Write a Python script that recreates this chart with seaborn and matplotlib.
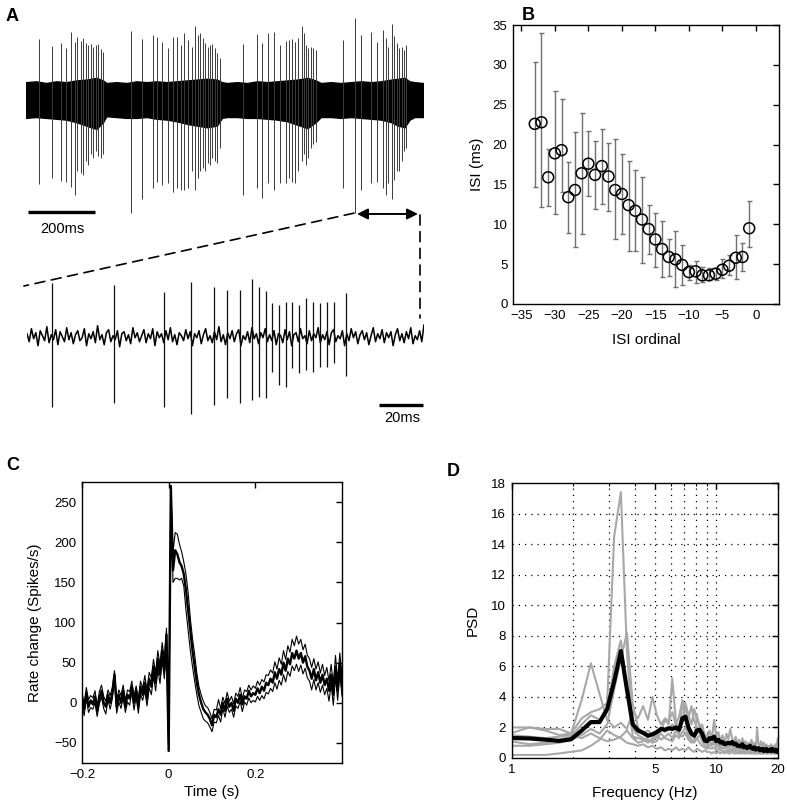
import numpy as np
import matplotlib
matplotlib.use("Agg")
import matplotlib.pyplot as plt
import seaborn as sns
from matplotlib.patches import ConnectionPatch
from matplotlib.ticker import FixedLocator, NullFormatter

sns.set_theme(style="white")
plt.rcParams["font.family"] = ["Liberation Sans", "DejaVu Sans"]
plt.rcParams["axes.edgecolor"] = "black"
plt.rcParams["axes.linewidth"] = 1.0
for key in ["text.color", "axes.labelcolor", "xtick.color", "ytick.color"]:
    plt.rcParams[key] = "black"

# ---------------- Panel A: raw trace (top, ms) ----------------
band_t = [0, 30, 60, 90, 120, 150, 180, 210, 230, 240, 270, 300, 330, 360, 390, 420, 450, 480,
          510, 540, 570, 585, 600, 630, 660, 690, 720, 750, 780, 810, 840, 865, 880, 910, 940,
          970, 1000, 1030, 1060, 1090, 1110, 1130, 1145, 1160, 1185]
band_hi = [1.05, 1.1, 1.0, 1.1, 1.05, 1.15, 1.2, 1.3, 1.15, 1.0, 1.05, 1.0, 1.1, 1.05, 1.1, 1.05, 1.1, 1.15,
           1.2, 1.25, 1.2, 1.05, 1.0, 1.05, 1.0, 1.1, 1.05, 1.1, 1.15, 1.2, 1.3, 1.15, 1.0, 1.05, 1.0,
           1.05, 1.1, 1.05, 1.1, 1.2, 1.25, 1.3, 1.1, 1.05, 1.0]
band_lo = [-1.05, -1.0, -1.05, -1.1, -1.15, -1.3, -1.5, -1.7, -1.3, -0.95, -1.0, -1.05, -1.05, -1.0, -1.1, -1.15, -1.25, -1.4,
           -1.5, -1.6, -1.5, -1.05, -1.0, -1.0, -1.05, -1.05, -1.1, -1.15, -1.25, -1.45, -1.65, -1.3, -1.0, -1.0, -1.05,
           -1.0, -1.05, -1.1, -1.15, -1.3, -1.5, -1.6, -1.15, -1.0, -1.0]

spk_t = [39.7, 76.7, 103.6, 118.5, 133.4, 146.3, 153.1, 164.2, 171.0, 178.2, 186.0, 193.1, 200.9, 209.0, 215.8, 223.0, 229.0,
         313.4, 347.2, 378.2, 391.9, 406.9, 423.0, 437.9, 449.8, 461.8, 472.5, 484.5, 494.6, 504.5, 512.5, 519.4, 527.5, 535.2,
         542.4, 549.2, 556.1, 563.3, 569.2, 579.1,
         648.6, 690.4, 705.4, 723.3, 741.2, 758.2, 776.1, 785.1, 793.1, 803.0, 812.8, 823.0, 829.8, 835.8, 842.7, 849.8, 857.6, 864.8,
         947.1, 982.0, 999.0, 1029.0, 1047.0, 1065.0, 1074.0, 1081.0, 1092.0, 1098.0, 1107.0, 1113.0, 1121.0, 1128.0, 1134.0]
spk_up = [3.59, 3.18, 3.35, 3.04, 4.0, 3.43, 3.72, 3.47, 3.63, 3.33, 3.24, 3.27, 3.14, 3.24, 3.3, 3.0, 2.8,
          4.06, 3.59, 3.82, 3.72, 3.43, 3.04, 3.72, 3.72, 3.24, 3.92, 3.53, 3.14, 4.37, 3.82, 3.92, 3.63, 3.33,
          3.14, 3.24, 3.27, 3.04, 2.75, 2.45,
          3.27, 3.86, 3.33, 3.92, 4.02, 3.24, 3.47, 3.53, 3.59, 3.43, 3.67, 4.37, 3.92, 3.24, 3.04, 3.14, 3.04, 2.94,
          3.53, 4.8, 3.82, 4.02, 3.43, 4.12, 3.63, 3.14, 4.45, 3.78, 3.33, 3.08, 3.14, 2.94, 3.24]
spk_dn = [-4.94, -4.59, -4.76, -4.8, -5.12, -5.59, -4.2, -4.3, -4.4, -3.6, -3.8, -3.2, -3.4, -3.0, -3.3, -3.4, -3.2,
          -6.65, -5.8, -5.2, -4.8, -5.0, -4.9, -5.4, -5.2, -5.3, -5.3, -5.2, -4.2, -5.3, -4.6, -4.2, -4.0, -4.2,
          -3.7, -3.8, -3.4, -3.6, -3.7, -2.8,
          -5.6, -5.2, -5.75, -4.9, -5.3, -4.9, -4.9, -4.6, -4.8, -4.9, -4.2, -3.6, -3.2, -3.8, -3.4, -2.8, -2.6, -2.45,
          -5.2, -6.65, -5.3, -4.9, -4.8, -5.2, -5.6, -4.9, -5.8, -4.7, -4.2, -4.2, -3.6, -3.0, -2.8]

# ---------------- Panel A: zoomed trace (bottom, ms) ----------------
noise_v = [0.3, -0.5, 0.8, -0.2, 0.4, -0.9, 0.6, 0.1, -0.4, 1.0,
           -0.6, 0.2, -0.3, 0.7, -0.8, 0.5, 0.0, -0.5, 0.9, -0.3,
           0.4, -0.7, 0.2, 0.6, -0.4, -0.1, 0.8, -0.9, 0.3, -0.2,
           0.5, -0.6, 1.1, -0.3, 0.2, -0.8, 0.4, 0.7, -0.5, 0.1,
           -0.3, 0.6, -1.0, 0.3, 0.5, -0.4, 0.2, -0.7, 0.9, -0.1,
           0.4, -0.5, 0.1, 0.7, -0.6, 0.3, -0.2, 0.8, -0.9, 0.5,
           -0.1, 0.3, -0.6, 0.6, -0.3, 0.9, -0.5, 0.2, -0.8, 0.4,
           0.1, -0.4, 0.7, -0.2, 0.5, -0.9, 0.3, -0.1, 0.6, -0.7,
           0.2, 0.8, -0.4, 0.1, -0.6, 0.5, -0.3, 1.0, -0.5, 0.2,
           -0.8, 0.4, -0.2, 0.6, -0.5, 0.3, 0.7, -0.9, 0.1, -0.3,
           0.5, -0.6, 0.9, -0.2, 0.3, -0.7, 0.4, -0.1, 0.8, -0.5,
           0.2, -0.4, 0.6, -0.8, 0.3, 0.1, -0.6, 0.7, -0.3, 0.5,
           -0.9, 0.2, 0.4, -0.5, 0.8, -0.2, 0.1, -0.7, 0.6, -0.4,
           0.3, -0.1, 0.9, -0.6, 0.2, -0.3, 0.5, -0.8, 0.4, 0.7,
           -0.5, 0.1, -0.2, 0.6, -0.9, 0.3, -0.4, 0.8, -0.1, 0.5,
           -0.7, 0.2, 0.6, -0.3, 0.4, -0.8, 0.1, 0.9, -0.5, 0.3,
           -0.2, 0.7, -0.6, 0.4, -0.1, 0.5, -0.9, 0.2, 0.8, -0.4,
           0.3, -0.6, 0.5, -0.2, 0.9, -0.7, 0.1, -0.3, 0.6, -0.5,
           1.2]
noise_t = list(range(0, 181))
zspk_t = [11.2, 39.6, 62.3, 74.4, 84.9, 90.8, 96.6, 102.1, 105.3, 108.4, 111.2, 114.1, 117.3, 120.0,
          123.2, 126.4, 129.8, 132.8, 136.0, 139.2, 144.6]
zspk_up = [5.34, 5.17, 4.5, 5.5, 5.0, 4.67, 4.67, 5.77, 5.0, 4.6, 3.34, 3.17, 3.5, 3.44,
           3.17, 3.84, 3.5, 3.34, 3.5, 3.5, 4.34]
zspk_dn = [-7.0, -6.66, -7.06, -7.73, -6.83, -6.16, -6.66, -6.33, -6.0, -6.1, -3.5, -4.83, -5.0, -3.16,
           -3.66, -3.33, -3.5, -3.0, -3.0, -2.66, -3.93]

# ---------------- Panel B ----------------
ordinal = list(range(-33, 0))
isi_mean = [22.6, 22.8, 15.9, 18.9, 19.3, 13.4, 14.3, 16.4, 17.6, 16.2, 17.3, 16.0, 14.3, 13.8, 12.4, 11.7,
            10.6, 9.4, 8.1, 6.9, 5.9, 5.6, 4.9, 4.0, 4.1, 3.6, 3.6, 3.8, 4.3, 4.8, 5.8, 5.9, 9.5]
isi_hi = [30.3, 34.0, 19.4, 26.7, 25.7, 17.8, 21.6, 23.9, 21.7, 20.4, 22.0, 20.2, 20.7, 18.8, 18.0, 16.8,
          15.9, 12.4, 11.4, 10.4, 8.2, 9.1, 7.4, 4.9, 5.4, 4.7, 4.5, 4.5, 5.6, 6.1, 8.7, 7.7, 12.9]
isi_lo = [14.7, 12.2, 12.3, 11.3, 14.1, 8.9, 7.1, 8.8, 13.6, 11.9, 12.6, 11.7, 8.1, 8.8, 6.6, 6.7,
          5.2, 6.3, 4.7, 3.4, 3.5, 2.1, 2.4, 3.0, 2.6, 2.8, 3.0, 3.0, 3.3, 3.6, 3.1, 4.1, 7.2]

# ---------------- Panel C ----------------
time_s = np.round(np.arange(-200, 401, 5) / 1000.0, 3)
rate_mean = [5, -8, 12, -5, 3, -2, 8, -10, 5, 15,
             0, -5, 10, 0, 12, 35, -5, 10, 0, 15,
             -5, 10, 5, 20, 0, 15, -5, 20, 10, 25,
             5, 30, 20, 45, 25, 55, 35, 65, 40, 85,
             -60, 270, 165, 190, 185, 175, 170, 160, 140, 115,
             90, 65, 45, 25, 10, 0, -8, -12, -15, -20,
             -28, -15, -18, -8, -15, 0, -10, 5, -5, 0,
             -10, 5, 0, 10, -2, 8, 5, 15, 8, 12,
             10, 18, 12, 20, 15, 25, 22, 30, 25, 38,
             30, 42, 35, 50, 40, 55, 48, 62, 55, 65,
             55, 62, 50, 58, 45, 40, 30, 42, 28, 38,
             25, 35, 22, 30, 15, 35, 10, 45, 15, 50, 20]
ci_up = [8, 6, 7, 9, 6, 8, 7, 6, 9, 7,
         8, 7, 6, 9, 7, 5, 8, 6, 9, 7,
         8, 6, 9, 7, 8, 6, 9, 7, 8, 9,
         10, 8, 11, 9, 12, 10, 12, 10, 14, 8,
         0, 0, 22, 22, 25, 22, 18, 15, 20, 22,
         15, 15, 15, 12, 10, 10, 10, 8, 9, 8,
         8, 7, 9, 12, 8, 7, 9, 8, 7, 8,
         9, 7, 8, 9, 7, 8, 9, 7, 8, 9,
         8, 9, 10, 9, 11, 10, 12, 11, 12, 13,
         12, 14, 13, 15, 14, 16, 15, 17, 16, 18,
         18, 17, 16, 15, 14, 15, 14, 13, 14, 13,
         12, 13, 12, 14, 12, 13, 12, 14, 13, 12, 13]
ci_lo = [7, 8, 6, 7, 9, 6, 8, 7, 6, 8,
         7, 9, 6, 8, 7, 6, 8, 9, 7, 8,
         7, 9, 8, 6, 9, 7, 8, 9, 7, 10,
         9, 11, 10, 12, 10, 13, 11, 12, 10, 14,
         0, 0, 15, 35, 30, 22, 15, 15, 25, 25,
         25, 20, 18, 15, 14, 12, 12, 11, 10, 10,
         8, 9, 7, 8, 9, 7, 8, 9, 7, 8,
         8, 9, 7, 8, 9, 7, 8, 9, 8, 9,
         9, 10, 9, 11, 10, 12, 11, 12, 11, 13,
         13, 14, 13, 15, 14, 16, 15, 16, 15, 17,
         16, 15, 14, 15, 14, 13, 14, 13, 12, 13,
         12, 13, 12, 12, 13, 12, 13, 12, 12, 13, 12]

# ---------------- Panel D ----------------
freq = [0.98, 1.22, 1.46, 1.71, 1.95, 2.20, 2.44, 2.69, 2.93, 3.17, 3.42, 3.66, 3.91, 4.15, 4.39, 4.64,
        4.88, 5.13, 5.37, 5.62, 5.86, 6.10, 6.35, 6.59, 6.84, 7.08, 7.32, 7.57, 7.81, 8.06, 8.30, 8.54,
        8.79, 9.03, 9.28, 9.52, 9.77, 10.01, 10.25, 10.50, 10.74, 10.99, 11.23, 11.47, 11.72, 11.96,
        12.21, 12.45, 12.70, 12.94, 13.18, 13.43, 13.67, 13.92, 14.16, 14.40, 14.65, 14.89, 15.14,
        15.38, 15.63, 15.87, 16.11, 16.36, 16.60, 16.85, 17.09, 17.33, 17.58, 17.82, 18.07, 18.31,
        18.55, 18.80, 19.04, 19.29, 19.53, 19.78, 20.02]
psd_mean = [1.31, 1.28, 1.20, 1.12, 1.22, 1.80, 2.35, 2.35, 3.20, 5.00,
            7.00, 4.50, 2.20, 1.80, 1.65, 1.45, 1.55, 1.70, 1.90, 1.85,
            1.95, 1.90, 2.00, 1.85, 2.60, 2.70, 2.00, 1.60, 1.45, 1.80,
            1.85, 1.60, 1.15, 1.10, 1.30, 1.25, 1.40, 1.10, 1.20, 1.00,
            1.05, 0.90, 0.95, 1.00, 0.95, 1.05, 0.90, 0.95, 0.80, 0.80,
            0.75, 0.90, 0.70, 0.75, 0.65, 0.70, 0.80, 0.65, 0.60, 0.70,
            0.55, 0.60, 0.65, 0.50, 0.55, 0.60, 0.45, 0.50, 0.60, 0.45,
            0.50, 0.55, 0.45, 0.60, 0.50, 0.45, 0.55, 0.40, 0.50]
psd_cell1 = [1.6, 2.0, 1.8, 1.5, 1.6, 2.6, 3.0, 3.2, 3.6, 14.5,
             17.4, 7.0, 1.9, 1.5, 1.3, 1.2, 1.1, 1.4, 1.6, 1.3,
             1.2, 1.1, 1.5, 1.3, 1.7, 2.0, 1.4, 1.2, 1.0, 1.3,
             1.5, 1.1, 0.8, 0.7, 0.9, 0.8, 1.0, 0.7, 0.8, 0.6,
             0.7, 0.6, 0.8, 0.5, 0.6, 0.5, 0.7, 0.5, 0.6, 0.4,
             0.5, 0.6, 0.4, 0.5, 0.4, 0.5, 0.4, 0.5, 0.3, 0.4,
             0.4, 0.5, 0.3, 0.4, 0.3, 0.4, 0.3, 0.4, 0.3, 0.4,
             0.3, 0.4, 0.3, 0.4, 0.3, 0.3, 0.4, 0.3, 0.3]
psd_cell2 = [2.0, 2.0, 1.9, 1.9, 1.6, 3.8, 6.2, 4.2, 2.5, 2.0,
             2.3, 1.9, 3.0, 2.6, 3.4, 2.5, 4.0, 2.8, 2.2, 2.6,
             2.4, 3.0, 2.2, 2.7, 3.8, 3.2, 2.6, 3.4, 2.4, 2.0,
             1.6, 2.2, 1.5, 1.3, 1.8, 1.2, 2.5, 1.4, 1.7, 1.1,
             1.5, 1.0, 1.6, 1.2, 1.9, 1.3, 1.0, 1.4, 0.9, 1.2,
             0.8, 1.3, 0.9, 1.1, 0.8, 1.0, 0.7, 1.2, 0.8, 1.0,
             0.7, 1.9, 0.9, 0.8, 1.1, 0.7, 1.0, 0.6, 0.9, 0.7,
             0.8, 0.6, 0.9, 0.7, 0.8, 0.6, 0.9, 0.7, 1.3]
psd_cell3 = [1.1, 0.9, 1.0, 1.2, 1.4, 2.2, 2.8, 2.5, 3.0, 6.0,
             7.7, 4.5, 1.4, 1.3, 1.2, 1.0, 1.3, 1.5, 1.2, 1.4,
             1.6, 1.3, 1.8, 1.5, 3.7, 2.5, 1.6, 1.2, 1.1, 2.8,
             2.0, 1.2, 1.0, 0.9, 1.1, 0.9, 1.3, 0.8, 1.0, 0.7,
             0.9, 0.8, 1.0, 0.7, 0.8, 0.7, 0.9, 0.6, 0.8, 0.6,
             0.7, 0.5, 0.8, 0.6, 0.5, 0.6, 0.5, 0.7, 0.5, 0.6,
             0.5, 0.6, 0.4, 0.5, 0.6, 0.4, 0.5, 0.4, 0.6, 0.4,
             0.5, 0.4, 0.5, 0.4, 0.5, 0.4, 0.5, 0.4, 0.5]
psd_cell4 = [0.8, 0.8, 0.9, 1.0, 1.2, 1.5, 1.9, 1.6, 2.2, 4.5,
             6.5, 8.2, 3.5, 2.0, 1.6, 1.8, 1.5, 1.6, 2.0, 1.7,
             1.9, 2.2, 2.0, 1.8, 2.4, 3.6, 2.8, 2.2, 3.2, 2.5,
             2.2, 1.6, 1.3, 1.5, 1.2, 1.4, 1.1, 1.3, 0.9, 1.0,
             1.2, 0.9, 1.1, 0.8, 1.0, 0.9, 0.7, 1.0, 0.8, 0.9,
             0.7, 0.9, 0.6, 0.8, 0.7, 0.6, 0.8, 0.7, 0.6, 0.7,
             0.6, 0.7, 0.5, 0.7, 0.6, 0.5, 0.7, 0.5, 0.6, 0.5,
             0.6, 0.5, 0.7, 0.5, 0.6, 0.5, 0.6, 0.5, 0.6]
psd_cell5 = [1.5, 1.4, 1.3, 1.4, 1.5, 1.3, 1.6, 1.3, 1.1, 1.2,
             1.4, 1.8, 1.3, 1.0, 1.1, 1.2, 1.0, 1.1, 1.8, 2.5,
             2.2, 5.2, 2.4, 1.6, 1.4, 1.6, 1.2, 1.0, 1.1, 1.3,
             1.0, 0.8, 0.7, 0.6, 0.7, 0.6, 0.7, 0.5, 0.6, 0.5,
             0.5, 0.4, 0.5, 0.4, 0.5, 0.4, 0.5, 0.4, 0.3, 0.4,
             0.4, 0.3, 0.4, 0.3, 0.4, 0.3, 0.4, 0.3, 0.4, 0.3,
             0.3, 0.4, 0.3, 0.3, 0.4, 0.3, 0.3, 0.4, 0.3, 0.3,
             0.4, 0.3, 0.3, 0.4, 0.3, 0.3, 0.3, 0.4, 0.3]
psd_cell6 = [0.2, 0.2, 0.2, 0.3, 0.4, 0.5, 0.8, 1.2, 1.8, 1.5,
             1.3, 1.0, 0.9, 0.8, 0.9, 0.7, 0.8, 0.6, 0.7, 0.5,
             0.6, 0.5, 0.7, 0.5, 0.6, 0.5, 0.7, 0.5, 0.4, 0.6,
             0.5, 0.4, 0.5, 0.4, 0.4, 0.3, 0.4, 0.3, 0.4, 0.3,
             0.4, 0.3, 0.4, 0.3, 0.3, 0.4, 0.3, 0.3, 0.4, 0.3,
             0.3, 0.4, 0.3, 0.3, 0.4, 0.3, 0.3, 0.3, 0.4, 0.3,
             0.3, 0.3, 0.4, 0.3, 0.3, 0.3, 0.4, 0.3, 0.3, 0.3,
             0.4, 0.3, 0.3, 0.3, 0.4, 0.3, 0.3, 0.3, 0.3]
psd_cells = [psd_cell1, psd_cell2, psd_cell3, psd_cell4, psd_cell5, psd_cell6]

for arr in [rate_mean, ci_up, ci_lo]:
    assert len(arr) == len(time_s)
for arr in [psd_mean] + psd_cells:
    assert len(arr) == len(freq)
assert len(noise_v) == len(noise_t)

W, H = 787, 807
fig = plt.figure(figsize=(W / 100, H / 100), dpi=100)


def box(l, t, r, b):
    return [l / W, 1 - b / H, (r - l) / W, (b - t) / H]


TICK_FS = 9.5
LAB_FS = 11

# ---- A top ----
ax_top = fig.add_axes(box(26, 15, 423, 215))
ax_top.fill_between(band_t, band_lo, band_hi, color="black", lw=1.0, edgecolor="black")
ax_top.vlines(spk_t, spk_dn, spk_up, color="#3a3a3a", lw=0.7)
ax_top.set_xlim(0, 1185)
ax_top.set_ylim(-6.76, 5.0)
ax_top.axis("off")
ax_top.plot([6, 206], [-6.59, -6.59], color="black", lw=2.4, solid_capstyle="butt", clip_on=False)
ax_top.text(108, -7.6, "200ms", ha="center", va="center", fontsize=10.5, clip_on=False)
ax_top.annotate("", xy=(988, -6.7), xytext=(1170, -6.7),
                arrowprops=dict(arrowstyle="<|-|>", color="black", lw=1.4,
                                mutation_scale=16, shrinkA=0, shrinkB=0),
                annotation_clip=False)

# ---- A bottom ----
ax_bot = fig.add_axes(box(27, 275, 424, 420))
sns.lineplot(x=noise_t, y=noise_v, color="black", lw=1.1, ax=ax_bot, estimator=None, sort=False)
ax_bot.vlines(zspk_t, zspk_dn, zspk_up, color="#111111", lw=0.9)
ax_bot.set_xlim(0, 180)
ax_bot.set_ylim(-8.33, 6.17)
ax_bot.axis("off")
ax_bot.plot([159.6, 179.5], [-6.83, -6.83], color="black", lw=2.4, solid_capstyle="butt", clip_on=False)
ax_bot.text(170, -8.15, "20ms", ha="center", va="center", fontsize=10.5, clip_on=False)

con1 = ConnectionPatch(xyA=(979, -6.65), coordsA=ax_top.transData,
                       xyB=(-1.4, 5.07), coordsB=ax_bot.transData,
                       color="black", lw=1.2, linestyle=(0, (6, 4)))
con2 = ConnectionPatch(xyA=(1176, -6.76), coordsA=ax_top.transData,
                       xyB=(178.2, 1.87), coordsB=ax_bot.transData,
                       color="black", lw=1.2, linestyle=(0, (6, 4)))
fig.add_artist(con1)
fig.add_artist(con2)

# ---- B ----
ax_b = fig.add_axes(box(513, 25, 779, 304))
isi_m = np.array(isi_mean)
ax_b.errorbar(ordinal, isi_mean, yerr=[isi_m - np.array(isi_lo), np.array(isi_hi) - isi_m],
              fmt="none", ecolor="#707070", elinewidth=1.0, capsize=1.8, capthick=1.0, zorder=2)
sns.scatterplot(x=ordinal, y=isi_mean, ax=ax_b, s=62, facecolor="none", edgecolor="black",
                linewidth=1.1, zorder=3)
ax_b.set_xlim(-36.25, 3.45)
ax_b.set_ylim(0, 35)
ax_b.set_xticks([-35, -30, -25, -20, -15, -10, -5, 0])
ax_b.set_yticks([0, 5, 10, 15, 20, 25, 30, 35])
ax_b.set_xlabel("ISI ordinal", fontsize=LAB_FS)
ax_b.set_ylabel("ISI (ms)", fontsize=LAB_FS)
ax_b.xaxis.set_label_coords(0.5, -0.104)
ax_b.yaxis.set_label_coords(-0.109, 0.5)

# ---- C ----
ax_c = fig.add_axes(box(82, 482, 342, 763))
rm = np.array(rate_mean, dtype=float)
upper = rm + np.array(ci_up)
lower = rm - np.array(ci_lo)
sns.lineplot(x=time_s, y=upper, ax=ax_c, color="black", lw=0.8, estimator=None, sort=False)
sns.lineplot(x=time_s, y=lower, ax=ax_c, color="black", lw=0.8, estimator=None, sort=False)
sns.lineplot(x=time_s, y=rate_mean, ax=ax_c, color="black", lw=1.7, estimator=None, sort=False)
ax_c.set_xlim(-0.2, 0.4)
ax_c.set_ylim(-75, 275)
ax_c.set_xticks([-0.2, 0, 0.2])
ax_c.set_xticklabels(["\u22120.2", "0", "0.2"])
ax_c.set_yticks([-50, 0, 50, 100, 150, 200, 250])
ax_c.set_yticklabels(["\u221250", "0", "50", "100", "150", "200", "250"])
ax_c.set_xlabel("Time (s)", fontsize=LAB_FS)
ax_c.set_ylabel("Rate change (Spikes/s)", fontsize=LAB_FS)
ax_c.xaxis.set_label_coords(0.5, -0.078)
ax_c.yaxis.set_label_coords(-0.154, 0.5)

# ---- D ----
ax_d = fig.add_axes(box(511.7, 483, 777.7, 758))
ax_d.set_xscale("log")
for xv in [2, 3, 4, 5, 6, 7, 8, 9, 10]:
    ax_d.axvline(xv, color="black", lw=0.9, linestyle=(0, (1, 4)), zorder=0)
for yv in [2, 4, 6, 8, 10, 12, 14, 16]:
    ax_d.axhline(yv, color="black", lw=0.9, linestyle=(0, (1, 4)), zorder=0)
for cell in psd_cells:
    sns.lineplot(x=freq, y=cell, ax=ax_d, color="#a8a8a8", lw=1.5, estimator=None, sort=False)
sns.lineplot(x=freq, y=psd_mean, ax=ax_d, color="black", lw=3.0, estimator=None, sort=False)
ax_d.set_xlim(1, 20)
ax_d.set_ylim(0, 18)
ax_d.xaxis.set_major_locator(FixedLocator([1, 5, 10, 20]))
ax_d.xaxis.set_minor_locator(FixedLocator([2, 3, 4, 6, 7, 8, 9]))
ax_d.xaxis.set_minor_formatter(NullFormatter())
ax_d.set_xticklabels(["1", "5", "10", "20"])
ax_d.set_yticks(list(range(0, 19, 2)))
ax_d.set_xlabel("Frequency (Hz)", fontsize=LAB_FS)
ax_d.set_ylabel("PSD", fontsize=LAB_FS)
ax_d.xaxis.set_label_coords(0.5, -0.102)
ax_d.yaxis.set_label_coords(-0.119, 0.5)

for ax in [ax_b, ax_c, ax_d]:
    ax.grid(False)
    ax.tick_params(which="major", direction="in", top=True, right=True, length=4.5, width=1.0,
                   labelsize=TICK_FS, color="black", labelcolor="black", pad=4)
    ax.tick_params(which="minor", direction="in", top=True, right=True, length=2.5, width=0.8)
    for sp in ax.spines.values():
        sp.set_visible(True)
        sp.set_color("black")
        sp.set_linewidth(1.0)

# panel letters
for lab, (px, py) in {"A": (12, 16.5), "B": (528, 16), "C": (13, 465), "D": (453, 472)}.items():
    fig.text(px / W, 1 - py / H, lab, ha="center", va="center", fontsize=13, fontweight="bold")

fig.savefig("out.png", dpi=100)
